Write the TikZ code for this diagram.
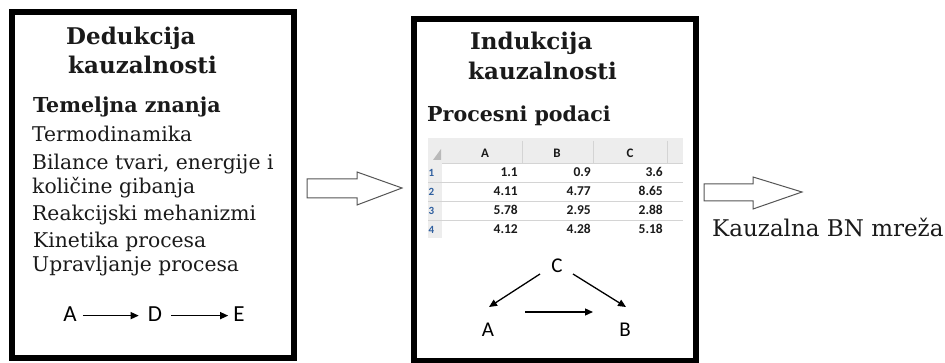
\documentclass[tikz,border=0pt]{standalone}
\usepackage{fontspec}
\setmainfont{DejaVu Serif}
\newfontfamily\carlitofont{Carlito}
\usetikzlibrary{arrows.meta}
\definecolor{txt}{HTML}{1A1A1A}
\definecolor{hdr}{HTML}{EDEDED}
\definecolor{gridc}{HTML}{D4D4D4}
\definecolor{rowno}{HTML}{2F5F9F}
\definecolor{arrowc}{HTML}{555555}
\tikzset{
  frame/.style={line width=6pt, draw=black},
  ttl/.style={anchor=base west, inner sep=0pt, font=\bfseries\fontsize{23}{25}\selectfont, text=txt},
  sub/.style={anchor=base west, inner sep=0pt, font=\bfseries\fontsize{20.6}{23}\selectfont, text=txt},
  item/.style={anchor=base west, inner sep=0pt, font=\fontsize{20.3}{23}\selectfont, text=txt},
  lbl/.style={anchor=base, inner sep=1pt, font=\carlitofont\fontsize{23}{25}\selectfont, text=black},
  cell/.style={anchor=base east, inner sep=0pt, font=\carlitofont\bfseries\fontsize{13.5}{14}\selectfont, text=txt},
  colh/.style={anchor=base, inner sep=0pt, font=\carlitofont\bfseries\fontsize{13}{14}\selectfont, text=txt},
  rowh/.style={anchor=base west, inner sep=0pt, font=\carlitofont\bfseries\fontsize{11}{12}\selectfont, text=rowno},
  conn/.style={-{Triangle[length=8pt,width=7pt]}, line width=1.3pt, black},
  blockarrow/.style={draw=arrowc, line width=1pt, fill=white, line join=miter}
}
\begin{document}
\begin{tikzpicture}[x=1pt,y=-1pt]
\useasboundingbox (0,0) rectangle (945,363);
% frames
\draw[frame] (12,12) rectangle (294,358);
\draw[frame] (414,19.5) rectangle (696,361);
% left box text
\node[ttl] (t1) at (66,45) {Dedukcija};
\node[ttl] (t2) at (68,74) {kauzalnosti};
\node[sub] (s1) at (33,113) {Temeljna znanja};
\node[item] (i1) at (32,142) {Termodinamika};
\node[item] (i2) at (32,170) {Bilance tvari, energije i};
\node[item] (i3) at (32,194) {količine gibanja};
\node[item] (i4) at (32,221) {Reakcijski mehanizmi};
\node[item] (i5) at (33,248) {Kinetika procesa};
\node[item] (i6) at (32,272) {Upravljanje procesa};
% A -> D -> E
\node[lbl] (la) at (70,322) {A};
\node[lbl] (ld) at (155,322) {D};
\node[lbl] (le) at (239,322) {E};
\draw[conn] ([xshift=5pt,yshift=-1pt]la.east) -- ([xshift=-8pt,yshift=-1pt]ld.west);
\draw[conn] ([xshift=8pt,yshift=-1pt]ld.east) -- ([xshift=-4pt,yshift=-1pt]le.west);
% block arrows
\draw[blockarrow] (307,179) -- (357,179) -- (357,172) -- (402,188) -- (357,205) -- (357,198) -- (307,198) -- cycle;
\draw[blockarrow] (704,184) -- (753,184) -- (753,177) -- (802,192) -- (753,209) -- (753,201) -- (704,201) -- cycle;
% middle box text
\node[ttl] (m1) at (470,50) {Indukcija};
\node[ttl] (m2) at (468,80) {kauzalnosti};
\node[sub] (m3) at (427,122) {Procesni podaci};
% table
\fill[hdr] (428,138) rectangle (683,163);
\fill[hdr] (428,163) rectangle (442,238);
\foreach \y in {182,201,220} \draw[gridc, line width=0.8pt] (428,\y) -- (683,\y);
\foreach \x in {522,593,667} \draw[gridc, line width=0.8pt] (\x,141) -- (\x,163);
\draw[gridc, line width=0.8pt] (442,163) -- (683,163);
\fill[gray!55] (441,149) -- (441,160) -- (433,160) -- cycle;
\node[colh] (ca) at (485,158) {A};
\node[colh] (cb) at (557,158) {B};
\node[colh] (cc) at (630,158) {C};
\node[rowh] (r1) at (428.5,177) {1};
\node[rowh] (r2) at (428.5,196) {2};
\node[rowh] (r3) at (428.5,215) {3};
\node[rowh] (r4) at (428.5,234) {4};
\node[cell] (v11) at (518,177) {1.1};  \node[cell] (v12) at (591,177) {0.9};  \node[cell] (v13) at (663,177) {3.6};
\node[cell] (v21) at (518,196) {4.11}; \node[cell] (v22) at (591,196) {4.77}; \node[cell] (v23) at (663,196) {8.65};
\node[cell] (v31) at (518,215) {5.78}; \node[cell] (v32) at (591,215) {2.95}; \node[cell] (v33) at (663,215) {2.88};
\node[cell] (v41) at (518,234) {4.12}; \node[cell] (v42) at (591,234) {4.28}; \node[cell] (v43) at (663,234) {5.18};
% graph
\node[lbl, font=\carlitofont\fontsize{21}{23}\selectfont] (gc) at (557,273) {C};
\node[lbl, font=\carlitofont\fontsize{21}{23}\selectfont] (ga) at (488,336) {A};
\node[lbl, font=\carlitofont\fontsize{21}{23}\selectfont] (gb) at (625,336) {B};
\coordinate (c1) at (540,274);
\coordinate (a1) at (489,307);
\coordinate (c2) at (573,274);
\coordinate (b1) at (626,307);
\coordinate (a2) at (525,312);
\coordinate (b2) at (593,312);
\draw[conn] (c1) -- (a1);
\draw[conn] (c2) -- (b1);
\draw[conn] (a2) -- (b2);
% right label
\node[item, font=\fontsize{23}{25}\selectfont] (kbn) at (712,237) {Kauzalna BN mreža};
\end{tikzpicture}
\end{document}
